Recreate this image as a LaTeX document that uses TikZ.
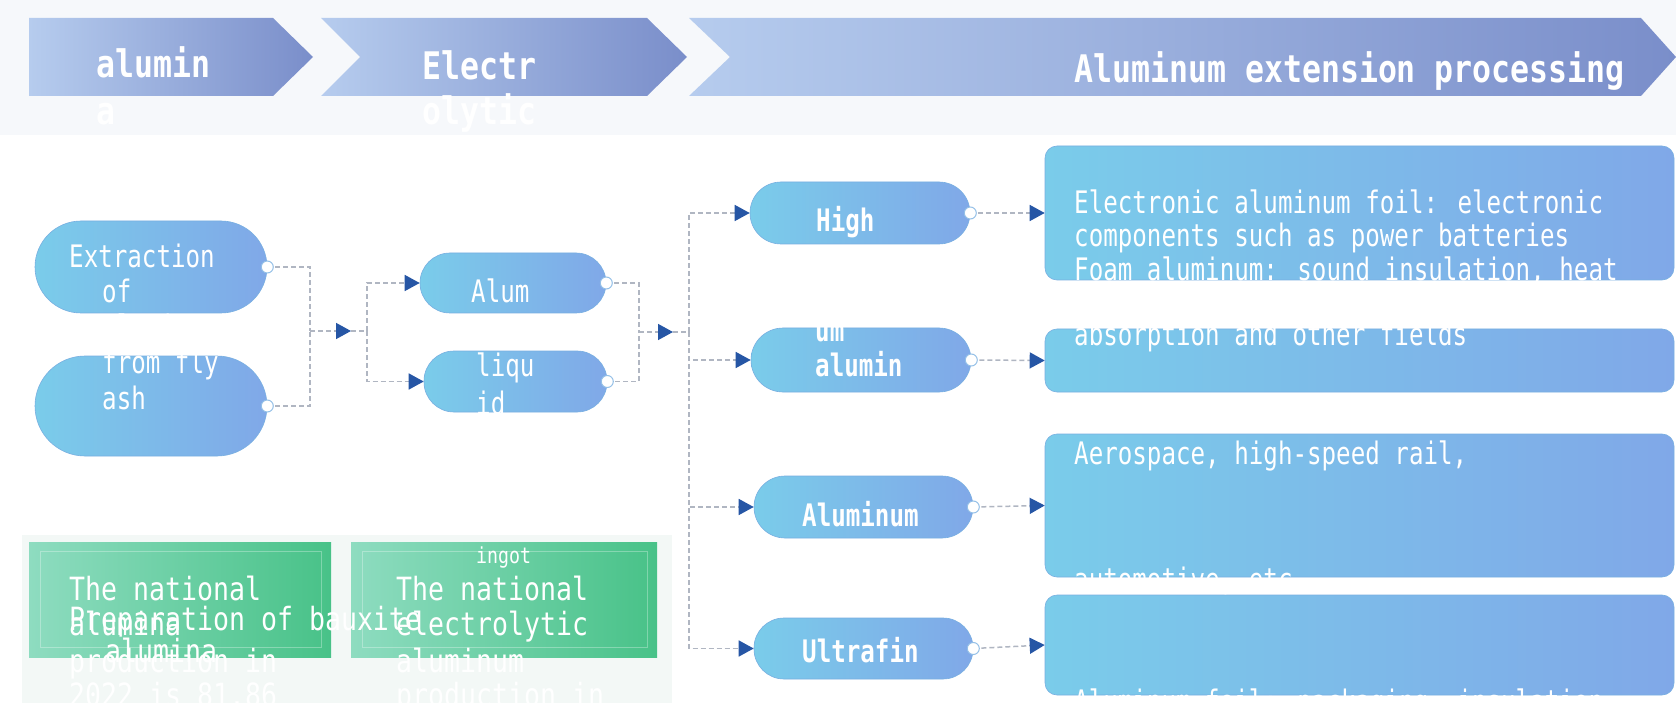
\documentclass[tikz,border=0pt]{standalone}
\usepackage{fontspec}
\newfontfamily\dmono[FakeStretch=0.78]{DejaVu Sans Mono}
\newfontfamily\dmonow[FakeStretch=0.83]{DejaVu Sans Mono}
\usetikzlibrary{arrows.meta}
\definecolor{pillL}{RGB}{122,204,234}
\definecolor{pillR}{RGB}{128,168,232}
\definecolor{pillEdge}{RGB}{120,175,225}
\definecolor{chevL}{RGB}{182,204,238}
\definecolor{chevR}{RGB}{122,142,202}
\definecolor{greenL}{RGB}{142,220,192}
\definecolor{greenR}{RGB}{72,194,136}
\definecolor{arrowblue}{RGB}{38,86,165}
\definecolor{dashgray}{RGB}{176,182,194}
\definecolor{bandgray}{RGB}{246,248,251}
\definecolor{glowgreen}{RGB}{243,248,246}
\begin{document}
\begin{tikzpicture}[x=1pt,y=-1pt,
  pill/.style={draw=pillEdge, line width=0.6pt, left color=pillL, right color=pillR, inner sep=0},
  infobox/.style={draw=pillEdge, line width=0.6pt, left color=pillL, right color=pillR, rounded corners=12pt, inner sep=0},
  greenbox/.style={left color=greenL, right color=greenR, inner sep=0},
  conn/.style={draw=dashgray, line width=1.5pt, dash pattern=on 5pt off 3pt},
  tipc/.style={-{Triangle[length=15pt,width=16pt,color=arrowblue]}},
  dotc/.style={circle, draw=pillEdge!80!white, fill=white, line width=1pt, minimum size=12pt, inner sep=0},
  txt/.style={text=white, font=\dmono\fontsize{31}{34}\selectfont, anchor=mid west, inner sep=0},
  btxt/.style={text=white, font=\dmono\bfseries\fontsize{31}{34}\selectfont, anchor=mid west, inner sep=0},
  htxt/.style={text=white, font=\dmonow\bfseries\fontsize{38}{42}\selectfont, anchor=mid west, inner sep=0},
  gtxt/.style={text=white, font=\dmonow\fontsize{32}{35}\selectfont, anchor=mid west, inner sep=0}]
\useasboundingbox (0,0) rectangle (1676,703);
\fill[white] (0,0) rectangle (1676,703);
\fill[bandgray] (0,0) rectangle (1676,135);
\fill[glowgreen] (22,535) rectangle (672,703);

% header chevrons
\shade[left color=chevL, right color=chevR] (29,18) -- (273,18) -- (313,57) -- (273,96) -- (29,96) -- cycle;
\shade[left color=chevL, right color=chevR] (321,18) -- (647,18) -- (687,57) -- (647,96) -- (321,96) -- (360,57) -- cycle;
\shade[left color=chevL, right color=chevR] (689,18) -- (1641,18) -- (1676,57) -- (1641,96) -- (689,96) -- (730,57) -- cycle;
\node[htxt] (h1a) at (96,75) {alumin};
\node[htxt] (h1b) at (96,122) {a};
\node[htxt] (h2a) at (422,77) {Electr};
\node[htxt] (h2b) at (422,122) {olytic};
\node[htxt] (h3) at (1074,80) {Aluminum extension processing};

% pills
\node[pill, minimum width=232pt, minimum height=92pt, rounded corners=46pt] (pA) at (151,267) {};
\node[pill, minimum width=232pt, minimum height=100pt, rounded corners=50pt] (pB) at (151,406) {};
\node[pill, minimum width=186pt, minimum height=60pt, rounded corners=30pt] (pC) at (513,283) {};
\node[pill, minimum width=183pt, minimum height=61pt, rounded corners=30pt] (pD) at (515.5,381.5) {};
\node[pill, minimum width=220pt, minimum height=62pt, rounded corners=31pt] (pH) at (860,213) {};
\node[pill, minimum width=220pt, minimum height=64pt, rounded corners=32pt] (pU) at (861,360) {};
\node[pill, minimum width=219pt, minimum height=62pt, rounded corners=31pt] (pAl) at (863.5,507) {};
\node[pill, minimum width=219pt, minimum height=61pt, rounded corners=30pt] (pUl) at (863.5,648.5) {};

% info boxes
\node[infobox, minimum width=629pt, minimum height=134pt] (b1) at (1359.5,213) {};
\node[infobox, minimum width=629pt, minimum height=63pt] (b2) at (1359.5,360.5) {};
\node[infobox, minimum width=629pt, minimum height=143pt] (b3) at (1359.5,505.5) {};
\node[infobox, minimum width=629pt, minimum height=100pt] (b4) at (1359.5,645) {};

% green boxes
\node[greenbox, minimum width=302pt, minimum height=115pt] (g1) at (180,599.5) {};
\node[greenbox, minimum width=306pt, minimum height=115pt] (g2) at (504,599.5) {};
\draw[white, opacity=0.3, line width=1pt] (g1.north west) ++(12,10) rectangle ([shift={(-10,-10)}]g1.south east);
\draw[white, opacity=0.3, line width=1pt] (g2.north west) ++(12,10) rectangle ([shift={(-10,-10)}]g2.south east);

% connectors
\coordinate (j1) at (310,331);
\coordinate (a1) at (351,331);
\coordinate (j2) at (367,331);
\coordinate (j3) at (639,332);
\coordinate (a2) at (673,332);
\coordinate (j4) at (689,332);
\draw[conn] (pA.east) -| (j1);
\draw[conn] (pB.east) -| (j1);
\draw[conn, tipc] (j1) -- (a1);
\draw[conn] (a1) -- (j2);
\draw[conn, tipc] (j2) |- (pC.west);
\draw[conn, tipc] (j2) |- (pD.west);
\draw[conn] (pC.east) -| (j3);
\draw[conn] (pD.east) -| (j3);
\draw[conn, tipc] (j3) -- (a2);
\draw[conn] (a2) -- (j4);
\draw[conn, tipc] (j4) |- (pH.west);
\draw[conn, tipc] (j4) |- (pU.west);
\draw[conn, tipc] (j4) |- (pAl.west);
\draw[conn, tipc] (j4) |- (pUl.west);
\draw[conn, tipc] (pH.east) -- (b1.west);
\draw[conn, tipc] (pU.east) -- (b2.west);
\draw[conn, tipc] (pAl.east) -- (b3.west);
\draw[conn, tipc] (pUl.east) -- (b4.west);
\node[dotc] (cA) at (pA.east) {};
\node[dotc] (cB) at (pB.east) {};
\node[dotc] (cC) at (pC.east) {};
\node[dotc] (cD) at (pD.east) {};
\node[dotc] (cH) at (pH.east) {};
\node[dotc] (cU) at (pU.east) {};
\node[dotc] (cAl) at (pAl.east) {};
\node[dotc] (cUl) at (pUl.east) {};

% pill texts
\node[txt] (tA1) at (69,265) {Extraction};
\node[txt] (tA2) at (102,300) {of};
\node[txt] (tA3) at (102,335) {alumina};
\node[txt] (tA4) at (102,371) {from fly};
\node[txt] (tA5) at (102,407) {ash};
\node[txt] (tC) at (471,300) {Alum};
\node[txt] (tD1) at (476,374) {liqu};
\node[txt] (tD2) at (476,412) {id};
\node[btxt] (tH) at (816,229) {High};
\node[btxt] (tU1) at (815,339) {um};
\node[btxt] (tU2) at (815,374) {alumin};
\node[btxt] (tAl) at (802,524) {Aluminum};
\node[btxt] (tUl) at (802,660) {Ultrafin};

% box texts
\node[txt] (tb1) at (1074,211) {Electronic aluminum foil: electronic};
\node[txt] (tb2) at (1074,244) {components such as power batteries};
\node[txt] (tb3) at (1074,278) {Foam aluminum: sound insulation, heat};
\node[txt] (tb4) at (1074,343) {absorption and other fields};
\node[txt] (tb5) at (1074,462) {Aerospace, high-speed rail,};
\node[txt] (tb6) at (1074,588) {automotive, etc.};
\node[txt] (tb7) at (1074,710) {Aluminum foil: packaging, insulation};

% green texts
\node[gtxt] (tg1) at (69,598) {The national};
\node[gtxt] (tg2) at (69,633) {alumina};
\node[gtxt] (tg3) at (69,670) {production in};
\node[gtxt] (tg4) at (69,704) {2022 is 81.86};
\node[gtxt] (tg5) at (69,628) {Preparation of bauxite};
\node[gtxt] (tg6) at (105,660) {alumina};
\node[text=white, font=\dmonow\fontsize{22}{24}\selectfont, anchor=mid west, inner sep=0] (tg7) at (476,561) {ingot};
\node[gtxt] (tg8) at (396,598) {The national};
\node[gtxt] (tg9) at (396,633) {electrolytic};
\node[gtxt] (tg10) at (396,670) {aluminum};
\node[gtxt] (tg11) at (396,704) {production in};
\end{tikzpicture}
\end{document}
